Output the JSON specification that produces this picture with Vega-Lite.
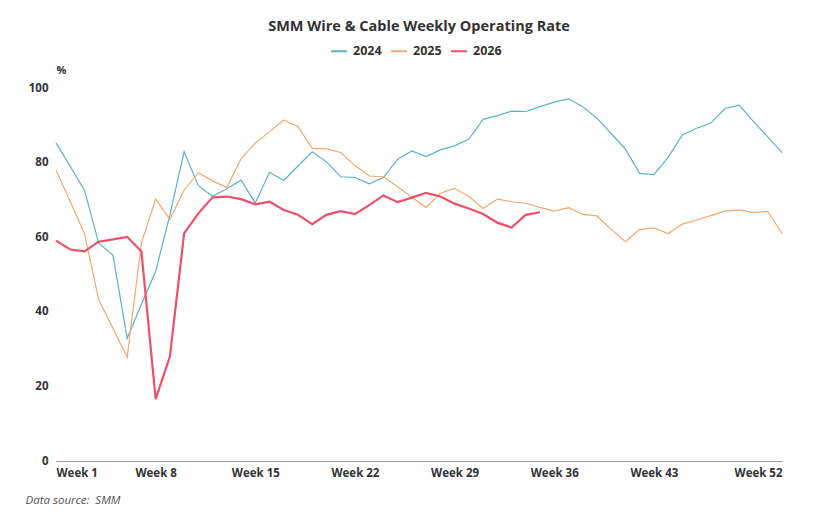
{
  "$schema": "https://vega.github.io/schema/vega-lite/v6.json",
  "width": 726,
  "height": 373,
  "autosize": "none",
  "padding": {"left": 56, "top": 88, "right": 49, "bottom": 61},
  "background": "white",
  "title": {
    "text": "SMM Wire & Cable Weekly Operating Rate",
    "anchor": "middle",
    "font": "Open Sans",
    "fontSize": 14.5,
    "fontWeight": "bold",
    "color": "#333333",
    "offset": 8
  },
  "data": {
    "values": [
      {"week": 1, "2024": 85.3, "2025": 78.0, "2026": 59.1},
      {"week": 2, "2024": 79.0, "2025": 69.5, "2026": 56.7},
      {"week": 3, "2024": 72.6, "2025": 61.0, "2026": 56.2},
      {"week": 4, "2024": 58.4, "2025": 43.2, "2026": 58.8},
      {"week": 5, "2024": 55.2, "2025": 35.6, "2026": 59.4},
      {"week": 6, "2024": 32.9, "2025": 27.8, "2026": 60.1},
      {"week": 7, "2024": 42.0, "2025": 58.4, "2026": 56.2},
      {"week": 8, "2024": 50.8, "2025": 70.2, "2026": 16.6},
      {"week": 9, "2024": 66.0, "2025": 64.8, "2026": 28.0},
      {"week": 10, "2024": 82.9, "2025": 72.6, "2026": 61.0},
      {"week": 11, "2024": 73.8, "2025": 77.3, "2026": 66.4},
      {"week": 12, "2024": 71.0, "2025": 75.1, "2026": 70.7},
      {"week": 13, "2024": 73.0, "2025": 73.3, "2026": 70.9},
      {"week": 14, "2024": 75.3, "2025": 81.1, "2026": 70.2},
      {"week": 15, "2024": 69.2, "2025": 85.2, "2026": 68.8},
      {"week": 16, "2024": 77.4, "2025": 88.3, "2026": 69.5},
      {"week": 17, "2024": 75.2, "2025": 91.4, "2026": 67.3},
      {"week": 18, "2024": 79.1, "2025": 89.6, "2026": 66.0},
      {"week": 19, "2024": 82.9, "2025": 83.8, "2026": 63.5},
      {"week": 20, "2024": 80.2, "2025": 83.7, "2026": 66.0},
      {"week": 21, "2024": 76.2, "2025": 82.7, "2026": 67.0},
      {"week": 22, "2024": 76.0, "2025": 79.2, "2026": 66.2},
      {"week": 23, "2024": 74.3, "2025": 76.4, "2026": 68.6},
      {"week": 24, "2024": 76.0, "2025": 76.2, "2026": 71.2},
      {"week": 25, "2024": 80.9, "2025": 73.5, "2026": 69.4},
      {"week": 26, "2024": 83.1, "2025": 70.7, "2026": 70.6},
      {"week": 27, "2024": 81.6, "2025": 68.0, "2026": 71.9},
      {"week": 28, "2024": 83.4, "2025": 71.8, "2026": 70.9},
      {"week": 29, "2024": 84.5, "2025": 73.1, "2026": 69.0},
      {"week": 30, "2024": 86.3, "2025": 70.9, "2026": 67.7},
      {"week": 31, "2024": 91.6, "2025": 67.7, "2026": 66.2},
      {"week": 32, "2024": 92.6, "2025": 70.2, "2026": 63.9},
      {"week": 33, "2024": 93.8, "2025": 69.5, "2026": 62.6},
      {"week": 34, "2024": 93.7, "2025": 69.1, "2026": 66.0},
      {"week": 35, "2024": 95.0, "2025": 68.0, "2026": 66.7},
      {"week": 36, "2024": 96.2, "2025": 67.0},
      {"week": 37, "2024": 97.1, "2025": 67.9},
      {"week": 38, "2024": 95.0, "2025": 66.1},
      {"week": 39, "2024": 91.9, "2025": 65.7},
      {"week": 40, "2024": 87.8, "2025": 62.1},
      {"week": 41, "2024": 83.6, "2025": 58.8},
      {"week": 42, "2024": 77.1, "2025": 62.1},
      {"week": 43, "2024": 76.8, "2025": 62.5},
      {"week": 44, "2024": 81.4, "2025": 61.0},
      {"week": 45, "2024": 87.4, "2025": 63.5},
      {"week": 46, "2024": 89.2, "2025": 64.6},
      {"week": 47, "2024": 90.6, "2025": 65.8},
      {"week": 48, "2024": 94.5, "2025": 67.0},
      {"week": 49, "2024": 95.4, "2025": 67.3},
      {"week": 50, "2024": 91.0, "2025": 66.6},
      {"week": 51, "2024": 86.9, "2025": 66.9},
      {"week": 52, "2024": 82.7, "2025": 61.0}
    ]
  },
  "transform": [
    {"fold": ["2024", "2025", "2026"], "as": ["year", "value"]},
    {"filter": "isValid(datum.value)"}
  ],
  "mark": {"type": "line", "interpolate": "linear"},
  "encoding": {
    "x": {
      "field": "week",
      "type": "quantitative",
      "scale": {"domain": [1, 52], "nice": false, "zero": false},
      "axis": {
        "values": [1, 8, 15, 22, 29, 36, 43, 52],
        "labelExpr": "'Week ' + datum.value",
        "labelFlush": true,
        "labelOverlap": false,
        "ticks": false,
        "grid": false,
        "domainColor": "#9a9a9a",
        "labelFont": "Open Sans",
        "labelFontSize": 11.5,
        "labelFontWeight": "bold",
        "labelColor": "#333333",
        "labelPadding": 6,
        "title": "Data source:\u00a0\u00a0SMM",
        "titleFont": "Open Sans",
        "titleFontSize": 11.5,
        "titleFontStyle": "italic",
        "titleFontWeight": "normal",
        "titleColor": "#555555",
        "titleAnchor": "start",
        "titleAlign": "left",
        "titleBaseline": "middle",
        "titleX": -31,
        "titleY": 39
      }
    },
    "y": {
      "field": "value",
      "type": "quantitative",
      "scale": {"domain": [0, 100], "nice": false},
      "axis": {
        "values": [0, 20, 40, 60, 80, 100],
        "domain": false,
        "ticks": false,
        "grid": false,
        "labelFont": "Open Sans",
        "labelFontSize": 11.5,
        "labelFontWeight": "bold",
        "labelColor": "#333333",
        "labelPadding": 8,
        "title": "%",
        "titleAngle": 0,
        "titleFont": "Open Sans",
        "titleFontSize": 11,
        "titleFontWeight": "bold",
        "titleColor": "#333333",
        "titleAlign": "left",
        "titleBaseline": "middle",
        "titleX": 0,
        "titleY": -18
      }
    },
    "color": {
      "field": "year",
      "type": "nominal",
      "scale": {"domain": ["2024", "2025", "2026"], "range": ["#5ab3cc", "#f4a96c", "#ef5068"]},
      "legend": {
        "title": null,
        "orient": "none",
        "direction": "horizontal",
        "legendX": 274,
        "legendY": -46,
        "symbolType": "stroke",
        "symbolSize": 256,
        "symbolStrokeWidth": 2,
        "labelFont": "Open Sans",
        "labelFontSize": 12.5,
        "labelFontWeight": "bold",
        "labelColor": "#333333",
        "labelOffset": 5,
        "columnPadding": 5
      }
    },
    "strokeWidth": {
      "condition": {"test": "datum.year == '2026'", "value": 2.2},
      "value": 1.2
    }
  },
  "config": {"view": {"stroke": null}}
}
